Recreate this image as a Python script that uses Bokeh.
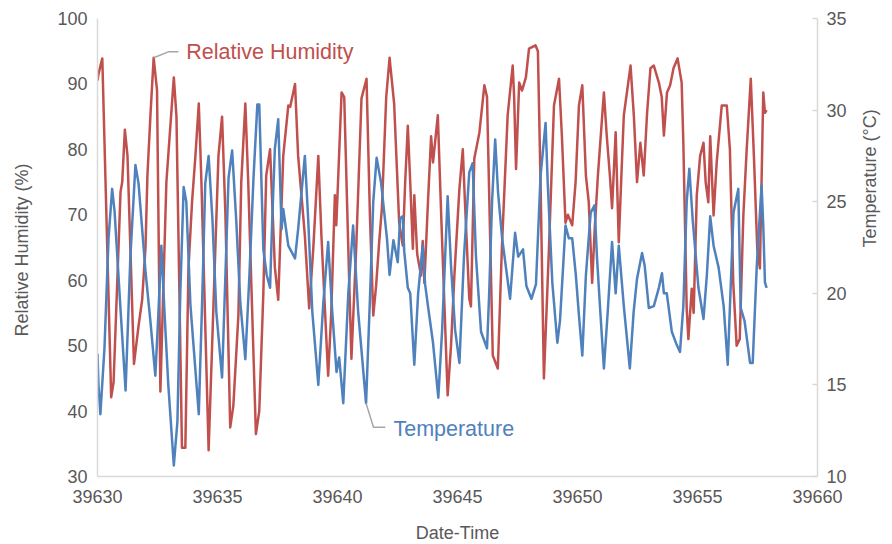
import math
import numpy as np
from bokeh.plotting import figure
from bokeh.models import Range1d, LinearAxis, FixedTicker, Label
from bokeh.embed import file_html
from bokeh.resources import INLINE

# ---------------- data ----------------
rh_time = [39630.00, 39630.04, 39630.20, 39630.57, 39630.67, 39630.96, 39631.03, 39631.14, 39631.25, 39631.52,
           39631.71, 39631.86, 39632.00, 39632.08, 39632.21, 39632.34, 39632.48, 39632.62, 39632.87, 39633.18,
           39633.29, 39633.52, 39633.66, 39633.79, 39633.94, 39634.08, 39634.22, 39634.33, 39634.63, 39634.91,
           39635.04, 39635.19, 39635.33, 39635.53, 39635.66, 39635.87, 39635.99, 39636.16, 39636.28, 39636.60,
           39636.74, 39636.91, 39637.03, 39637.19, 39637.39, 39637.53, 39637.74, 39637.95, 39638.03, 39638.23,
           39638.36, 39638.64, 39638.82, 39638.99, 39639.20, 39639.33, 39639.61, 39639.74, 39639.89, 39639.95,
           39640.17, 39640.28, 39640.45, 39640.58, 39640.78, 39641.00, 39641.21, 39641.35, 39641.49, 39641.61,
           39641.74, 39641.85, 39642.03, 39642.17, 39642.36, 39642.57, 39642.72, 39642.82, 39642.93, 39643.03,
           39643.14, 39643.20, 39643.32, 39643.48, 39643.55, 39643.62, 39643.77, 39643.90, 39643.98, 39644.18,
           39644.32, 39644.59, 39644.73, 39644.87, 39645.08, 39645.22, 39645.31, 39645.49, 39645.56, 39645.70,
           39645.91, 39646.12, 39646.23, 39646.47, 39646.68, 39646.85, 39647.09, 39647.30, 39647.36, 39647.44,
           39647.57, 39647.69, 39647.85, 39647.98, 39648.25, 39648.35, 39648.46, 39648.60, 39648.81, 39649.02,
           39649.23, 39649.35, 39649.50, 39649.60, 39649.78, 39649.92, 39650.06, 39650.20, 39650.35, 39650.47,
           39650.61, 39650.72, 39650.85, 39651.10, 39651.22, 39651.35, 39651.44, 39651.59, 39651.72, 39651.85,
           39651.93, 39652.21, 39652.35, 39652.48, 39652.62, 39652.76, 39652.90, 39653.04, 39653.18, 39653.39,
           39653.51, 39653.60, 39653.73, 39653.86, 39654.00, 39654.17, 39654.34, 39654.41, 39654.55, 39654.62,
           39654.76, 39654.84, 39654.97, 39655.11, 39655.25, 39655.34, 39655.45, 39655.53, 39655.67, 39655.80,
           39656.01, 39656.22, 39656.35, 39656.49, 39656.63, 39656.76, 39656.91, 39657.05, 39657.22, 39657.35,
           39657.49, 39657.60, 39657.74, 39657.81, 39657.88]

rh_values = [90.5, 91.5, 93.9, 42.1, 44.4, 73.5, 75, 83, 79, 47.2,
             53, 57, 65, 76, 85.5, 94, 89, 43, 75, 91,
             85, 34.4, 34.4, 61.8, 72, 79, 87, 75, 34, 64.8,
             79, 85, 70, 37.5, 40.8, 54.6, 75, 87, 75, 36.5,
             40, 58, 76, 80, 62, 57, 79, 86.7, 86.5, 90,
             79, 66.8, 55.7, 64.8, 79, 66.8, 45.4, 55, 73, 68.4,
             88.7, 88, 64.8, 48, 65, 87.8, 90.8, 70, 54.6, 59.2,
             66, 71, 88, 94, 87, 68.8, 65.3, 75, 83.6, 75,
             64.8, 73, 64, 60.7, 66, 59.6, 72, 82, 78, 85.2,
             70, 42.4, 50, 60.7, 74, 80, 72, 57.2, 56, 78.6,
             82.5, 89.8, 88, 48.5, 46.5, 65, 85.2, 92.8, 88, 77,
             90.2, 89, 91, 95.4, 95.9, 95, 75, 45, 64.8, 86.7,
             90.8, 82, 68.8, 70, 68.4, 75, 86.7, 89.8, 76, 71.9,
             59.6, 68, 76, 88.7, 82, 76, 71, 82.6, 65.8, 78,
             85.2, 92.8, 85, 75, 81, 76, 85.6, 92.4, 92.8, 90.2,
             88, 82.1, 88.7, 89.8, 92.4, 93.9, 90.2, 81, 55.7, 51,
             58.7, 55, 73, 79, 81, 75, 71.9, 82, 69.9, 78,
             86.7, 86.7, 80, 59.6, 50, 51, 69.9, 80, 90.8, 79,
             64.8, 61.8, 88.7, 85.6, 86]

temp_time = [39630.00, 39630.04, 39630.12, 39630.29, 39630.46, 39630.61, 39630.71, 39630.96, 39631.17, 39631.37,
             39631.58, 39631.71, 39632.00, 39632.21, 39632.41, 39632.54, 39632.66, 39632.79, 39632.95, 39633.18,
             39633.33, 39633.45, 39633.59, 39633.70, 39633.87, 39634.22, 39634.37, 39634.49, 39634.63, 39634.79,
             39634.95, 39635.19, 39635.33, 39635.46, 39635.61, 39635.78, 39635.95, 39636.16, 39636.33, 39636.50,
             39636.66, 39636.74, 39636.91, 39637.05, 39637.19, 39637.28, 39637.39, 39637.53, 39637.67, 39637.74,
             39637.95, 39638.23, 39638.36, 39638.64, 39638.78, 39638.95, 39639.20, 39639.41, 39639.61, 39639.78,
             39639.96, 39640.07, 39640.24, 39640.45, 39640.65, 39640.86, 39641.19, 39641.36, 39641.49, 39641.63,
             39641.82, 39642.06, 39642.17, 39642.33, 39642.51, 39642.61, 39642.72, 39642.78, 39642.93, 39643.03,
             39643.20, 39643.36, 39643.55, 39643.65, 39643.77, 39643.98, 39644.20, 39644.36, 39644.59, 39644.73,
             39644.90, 39645.08, 39645.27, 39645.49, 39645.63, 39645.77, 39645.98, 39646.23, 39646.32, 39646.44,
             39646.57, 39646.69, 39646.86, 39647.19, 39647.40, 39647.53, 39647.73, 39647.87, 39648.08, 39648.27,
             39648.46, 39648.67, 39648.76, 39648.95, 39649.16, 39649.27, 39649.50, 39649.64, 39649.78, 39649.93,
             39650.06, 39650.20, 39650.35, 39650.55, 39650.71, 39650.81, 39650.96, 39651.10, 39651.26, 39651.44,
             39651.59, 39651.72, 39651.93, 39652.18, 39652.34, 39652.48, 39652.69, 39652.80, 39652.97, 39653.18,
             39653.39, 39653.52, 39653.60, 39653.72, 39653.93, 39654.13, 39654.27, 39654.41, 39654.55, 39654.66,
             39654.80, 39655.04, 39655.25, 39655.39, 39655.53, 39655.67, 39655.88, 39656.09, 39656.26, 39656.50,
             39656.70, 39656.80, 39656.96, 39657.19, 39657.30, 39657.47, 39657.67, 39657.74, 39657.81, 39657.88]

temp_values = [16.7, 15, 13.4, 17, 23, 25.7, 24.5, 19.1, 14.7, 22,
               27, 26, 21.2, 18.4, 15.5, 19, 22.6, 19, 15, 10.6,
               13, 20, 25.8, 25, 19.4, 13.4, 20, 26, 27.5, 24,
               19, 15.4, 21, 26.3, 27.8, 24, 19.5, 16.4, 21, 26.3,
               30.3, 30.3, 22.4, 21, 20.3, 24, 27.9, 29.5, 23.5, 24.6,
               22.6, 21.9, 23.5, 27.5, 24, 19, 15, 19.5, 22.8, 19,
               15.7, 16.5, 14, 20, 23.7, 19, 14, 20, 25, 27.4,
               26, 23, 21, 22.9, 21.7, 24.1, 24.2, 22.3, 20.3, 20,
               16.1, 20, 22.6, 20.5, 19.3, 17.3, 14.3, 18, 25.3, 21.5,
               18, 16.2, 22, 26.6, 27.1, 22, 17.9, 17, 20, 25,
               28.4, 25.5, 23, 19.7, 23.3, 22, 22.4, 20.4, 19.7, 20.5,
               26.4, 29.3, 26, 20.6, 17.3, 18.5, 23.7, 23, 23, 21,
               18.8, 16.6, 21, 24.4, 24.8, 22, 18.8, 15.9, 19, 22.8,
               20, 22.6, 19.3, 15.9, 19, 20.8, 22.2, 21.5, 19.2, 19.3,
               20.3, 21.1, 20, 20, 17.9, 17.2, 16.8, 19.3, 25, 26.8,
               24, 20.3, 18.6, 21, 24.2, 22.6, 21.4, 19.3, 16.1, 24.4,
               25.7, 19.2, 18.5, 16.2, 16.2, 21.5, 25.9, 23.7, 20.6, 20.3]

x_ticks = [39630, 39635, 39640, 39645, 39650, 39655, 39660]
rh_ticks = [30, 40, 50, 60, 70, 80, 90, 100]
temp_ticks = [10, 15, 20, 25, 30, 35]

assert len(rh_time) == len(rh_values)
assert len(temp_time) == len(temp_values)

# ---------------- styling ----------------
RED = "#c0504d"
BLUE = "#4f81bd"
TXT = "#595959"
AXC = "#d9d9d9"
LEAD = "#a6a6a6"
FONT = "Liberation Sans"

p = figure(frame_width=720, frame_height=458,
           min_border_left=97, min_border_right=75, min_border_top=18, min_border_bottom=68,
           x_range=Range1d(39630, 39660), y_range=Range1d(30, 100),
           output_backend="svg", toolbar_location=None, tools="")
p.extra_y_ranges = {"temp": Range1d(10, 35)}
p.outline_line_color = None
p.xgrid.visible = False
p.ygrid.visible = False
p.background_fill_color = "white"
p.border_fill_color = "white"


def style_axis(ax, label_standoff, tick_standoff):
    ax.axis_line_color = AXC
    ax.axis_line_width = 1.5
    ax.major_tick_line_color = AXC
    ax.major_tick_line_width = 1.5
    ax.minor_tick_line_color = None
    ax.major_label_text_color = TXT
    ax.major_label_text_font = FONT
    ax.major_label_text_font_size = "18px"
    ax.axis_label_text_color = TXT
    ax.axis_label_text_font = FONT
    ax.axis_label_text_font_size = "18px"
    ax.axis_label_text_font_style = "normal"
    ax.axis_label_standoff = label_standoff
    ax.major_label_standoff = tick_standoff


xa = p.xaxis[0]
xa.ticker = FixedTicker(ticks=x_ticks)
xa.axis_label = "Date-Time"
style_axis(xa, 17, 13)
xa.major_tick_out = 0
xa.major_tick_in = 0

ya = p.yaxis[0]
ya.ticker = FixedTicker(ticks=rh_ticks)
ya.axis_label = "Relative Humidity  (%)"
style_axis(ya, 22, 10)
ya.major_tick_out = 0
ya.major_tick_in = 0

ra = LinearAxis(y_range_name="temp", ticker=FixedTicker(ticks=temp_ticks),
                axis_label="Temperature (°C)")
style_axis(ra, 20, 9)
ra.major_tick_out = 0
ra.major_tick_in = 5
ra.axis_label_orientation = math.pi / 2
p.add_layout(ra, "right")

# ---------------- series ----------------
p.line(rh_time, rh_values, line_color=RED, line_width=2.5, line_join="round")
p.line(temp_time, temp_values, line_color=BLUE, line_width=2.5, line_join="round",
       y_range_name="temp")

# ---------------- callouts ----------------
rt = np.array(rh_time); rv = np.array(rh_values)
tt = np.array(temp_time); tv = np.array(temp_values)

# humidity callout anchored on the peak near day 2.3
m = (rt > 39632) & (rt < 39632.6)
i = np.argmax(np.where(m, rv, -1))
hx0, hy0 = rt[i], rv[i]
hum_leader_x = [hx0, 39632.95, 39633.37]
hum_leader_y = [hy0, 94.9, 94.9]
p.line(hum_leader_x, hum_leader_y, line_color=LEAD, line_width=1.5)
p.add_layout(Label(x=39633.70, y=94.9, text="Relative Humidity", text_color=RED,
                   text_font=FONT, text_font_size="21.5px", text_baseline="middle"))

# temperature callout anchored on the trough near day 11.2
m2 = (tt > 39641.0) & (tt < 39641.4)
j = np.argmin(np.where(m2, tv, 99))
tx0, ty0 = tt[j], tv[j]
temp_leader_x = [tx0, 39641.50, 39641.99]
temp_leader_y = [ty0, 12.69, 12.69]
p.line(temp_leader_x, temp_leader_y, line_color=LEAD, line_width=1.5, y_range_name="temp")
p.add_layout(Label(x=39642.33, y=12.6, y_range_name="temp", text="Temperature",
                   text_color=BLUE, text_font=FONT, text_font_size="21.5px",
                   text_baseline="middle"))

open("out.html", "w").write(file_html(p, INLINE))
